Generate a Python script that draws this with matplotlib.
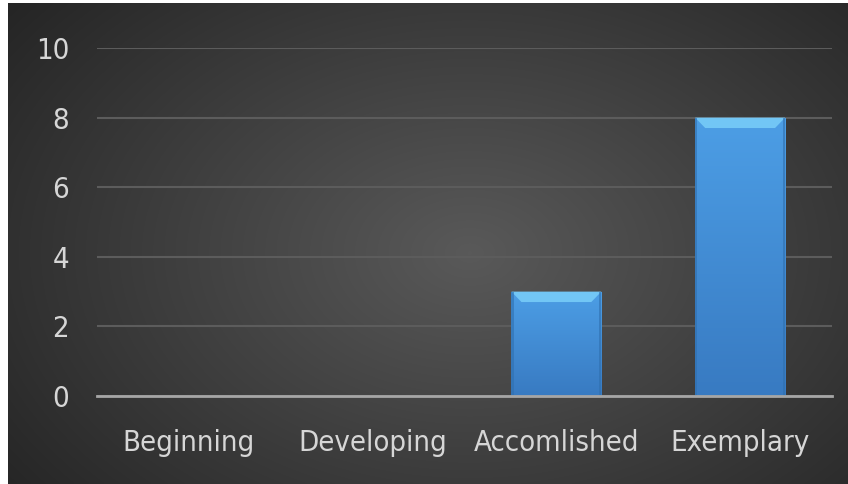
import numpy as np
import matplotlib.pyplot as plt
from matplotlib.patches import Polygon

categories = ['Beginning', 'Developing', 'Accomlished', 'Exemplary']
counts = [0, 0, 3, 8]
yticks = [0, 2, 4, 6, 8, 10]

plt.rcParams['font.family'] = ['DejaVu Sans']
plt.rcParams['font.stretch'] = 'condensed'

fig = plt.figure(figsize=(8.48, 4.84), dpi=100)
fig.patch.set_facecolor('white')

# dark radial background
bg = fig.add_axes([8 / 848, 0, 840 / 848, 481 / 484])
bg.set_axis_off()
yy, xx = np.mgrid[0:1:300j, 0:1:500j]
r = np.sqrt(((xx - 0.55) / 0.75) ** 2 + ((yy - 0.52) / 0.9) ** 2)
shade = np.clip(0.35 - 0.22 * r, 0.14, 0.35)
bg.imshow(np.dstack([shade] * 3), aspect='auto', extent=[0, 1, 0, 1], interpolation='bicubic')

ax = fig.add_axes([97 / 848, (484 - 396) / 484, (832 - 97) / 848, (396 - 48) / 484])
ax.set_facecolor('none')

width = 0.49
bars = ax.bar(range(len(categories)), counts, width=width, color='#3f8ad0', zorder=3)

grad = np.linspace(0, 1, 100).reshape(-1, 1)
top_c = np.array([0.30, 0.62, 0.90])
bot_c = np.array([0.22, 0.48, 0.76])
for b, v in zip(bars, counts):
    if v <= 0:
        continue
    x0, x1 = b.get_x(), b.get_x() + b.get_width()
    img = bot_c + (top_c - bot_c) * grad[:, :, None] * np.ones((1, 2, 1))
    im = ax.imshow(img, extent=[x0, x1, 0, v], origin='lower', aspect='auto', zorder=3.5,
                   interpolation='bicubic')
    im.set_clip_path(b)
    dx, dy = 0.055, 0.3
    ax.add_patch(Polygon([[x0, v], [x1, v], [x1 - dx, v - dy], [x0 + dx, v - dy]],
                         closed=True, facecolor='#72c6f5', edgecolor='none', zorder=4))
    ax.add_patch(Polygon([[x0, 0], [x0 + 0.012, 0], [x0 + 0.012, v], [x0, v]],
                         closed=True, facecolor='#2f6fae', edgecolor='none', alpha=0.6, zorder=4))
    ax.add_patch(Polygon([[x1 - 0.012, 0], [x1, 0], [x1, v], [x1 - 0.012, v]],
                         closed=True, facecolor='#2f6fae', edgecolor='none', alpha=0.6, zorder=4))

ax.set_xlim(-0.5, len(categories) - 0.5)
ax.set_ylim(0, 10)
ax.set_yticks(yticks)
ax.set_xticks(range(len(categories)))
ax.set_xticklabels(categories)
ax.grid(axis='y', color='#5c5c5c', linewidth=1.5, zorder=1)
ax.set_axisbelow(True)
for s in ['top', 'right', 'left']:
    ax.spines[s].set_visible(False)
ax.spines['bottom'].set_color('#a6a6a6')
ax.spines['bottom'].set_linewidth(2)
ax.spines['bottom'].set_zorder(5)
ax.tick_params(axis='both', length=0, colors='#d6d6d6', labelsize=21)
ax.tick_params(axis='y', pad=20)
ax.tick_params(axis='x', pad=24)

plt.savefig('out.png', dpi=100)
